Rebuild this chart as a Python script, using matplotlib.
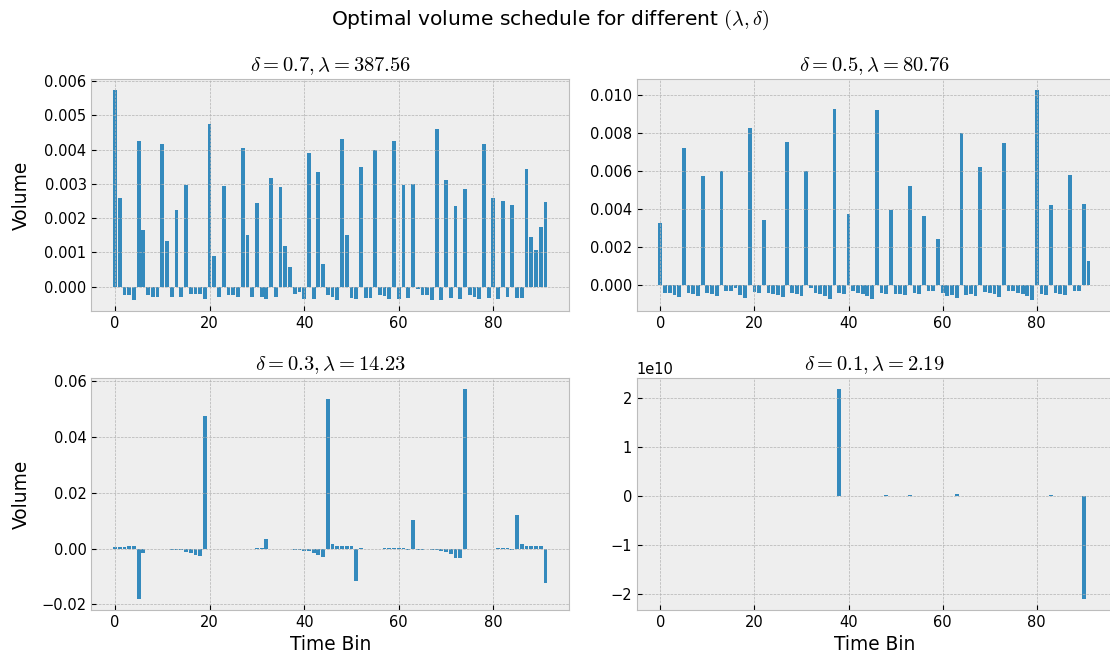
import numpy as np
import matplotlib
matplotlib.use("Agg")
import matplotlib.pyplot as plt

plt.style.use("bmh")
plt.rcParams["xtick.labelsize"] = 10.5
plt.rcParams["ytick.labelsize"] = 10.5
plt.rcParams["axes.labelsize"] = 13.4
plt.rcParams["axes.titlesize"] = 14.8

# Optimal volume per time bin for each (delta, lambda) pair
time_bins = np.arange(92)

titles = [
    r"$\delta = 0.7, \lambda = 387.56$",
    r"$\delta = 0.5, \lambda = 80.76$",
    r"$\delta = 0.3, \lambda = 14.23$",
    r"$\delta = 0.1, \lambda = 2.19$",
]

vol_d07 = [
    0.00575, 0.0026, -0.00025, -0.00025, -0.0004, 0.00425, 0.00164, -0.00023, -0.0003, -0.0003,
    0.00415, 0.00134, -0.0003, 0.00225, -0.0003, 0.00298, -0.0002, -0.0002, -0.0002, -0.00035,
    0.00474, 0.0009, -0.0003, 0.00294, -0.00023, -0.00025, -0.0003, 0.00405, 0.0015, -0.0003,
    0.00244, -0.0003, -0.00035, 0.00318, -0.0003, 0.0029, 0.0012, 0.00057, -0.0002, -0.00015,
    -0.00035, 0.0039, -0.00035, 0.00334, 0.00067, -0.00025, -0.0003, -0.0004, 0.0043, 0.0015,
    -0.00033, -0.00035, 0.0035, -0.00033, -0.00033, 0.004, -0.00023, -0.00027, -0.00035, 0.00425,
    -0.00035, 0.00298, -0.00033, 0.003, -0.00008, -0.00025, -0.00025, -0.0004, 0.0046, -0.0004,
    0.0031, -0.00033, 0.00234, -0.00035, 0.00284, -0.00025, -0.0003, -0.00035, 0.00415, -0.00033,
    0.0026, -0.00035, 0.0025, -0.0003, 0.00237, -0.00033, -0.00033, 0.00344, 0.00144, 0.00107,
    0.00174, 0.00248,
]

vol_d05 = [
    0.00327, -0.00041, -0.00041, -0.0005, -0.00064, 0.0072, -0.0004, -0.00046, -0.00057, 0.00575,
    -0.0004, -0.00046, -0.00057, 0.006, -0.00032, -0.00032, -0.00016, -0.00053, -0.00067, 0.00828,
    -0.00035, -0.0004, 0.00345, -0.0004, -0.00046, -0.00053, -0.00064, 0.00756, -0.0004, -0.00046,
    -0.00057, 0.006, -0.00016, -0.0004, -0.00046, -0.00057, -0.00074, 0.0093, -0.0004, -0.00046,
    0.00375, -0.00032, -0.0004, -0.00046, -0.00057, -0.00074, 0.0092, -0.0004, -0.00046, 0.00395,
    -0.00046, -0.00046, -0.0005, 0.0052, -0.0004, -0.00046, 0.00363, -0.00032, -0.00032, 0.00244,
    -0.0004, -0.00057, -0.0005, -0.00067, 0.008, -0.0005, -0.00046, -0.00057, 0.0062, -0.00035,
    -0.0004, -0.00046, -0.00064, 0.0075, -0.00028, -0.00028, -0.0004, -0.00046, -0.00057, -0.0008,
    0.0103, -0.00046, -0.00053, 0.0042, -0.0004, -0.00046, -0.0005, 0.0058, -0.00032, -0.00032,
    0.0043, 0.00127,
]

vol_d03 = [
    0.0007, 0.0007, 0.0006, 0.0008, 0.0011, -0.0182, -0.0014, -0.0001, -0.0001, -0.0001,
    -0.0002, -0.0002, -0.0003, -0.0004, -0.0006, -0.0012, -0.0014, -0.0022, -0.0027, 0.0475,
    0.0, 0.0, 0.0, 0.0, 0.0, 0.0, 0.0, 0.0, 0.0, 0.0,
    0.0001, 0.0001, 0.0034, -0.0001, -0.0001, -0.0001, -0.0001, -0.0002, -0.0003, -0.0005,
    -0.0008, -0.001, -0.0017, -0.0023, -0.003, 0.0535, 0.0017, 0.001, 0.001, 0.001,
    0.0008, -0.0116, 0.0001, 0.0, 0.0, 0.0, 0.0, 0.0001, 0.0001, 0.0001,
    0.0001, 0.0001, -0.0004, 0.0104, -0.0003, -0.0003, -0.0002, -0.0003, -0.0005, -0.0008,
    -0.0012, -0.002, -0.0035, -0.0035, 0.0574, 0.0, 0.0, 0.0, 0.0, 0.0,
    0.0, 0.0001, 0.0001, 0.0001, -0.0003, 0.0121, 0.0016, 0.0009, 0.0009, 0.0009,
    0.0009, -0.0123,
]

vol_d01 = [
    1e8, 0, 0, 0, 0, 0, 0, 0, 0, 0,
    1e8, 0, 0, 0, 0, 0, 0, 0, 0, 0,
    0, 0, 0, 0, 0, 1e8, 0, 0, 0, 0,
    0, 0, 0, 0, 0, 0, 0, 0, 2.2e10, 0,
    0, 0, 0, 0, 0, 0, 0, 0, 3e8, 0,
    0, 0, 0, 3e8, 0, 0, 0, 0, 0, 0,
    0, 0, 0, 5.5e8, 0, 0, 0, 1e8, 0, 0,
    0, 0, 0, 0, 1e8, 0, 0, 0, 0, 0,
    0, 0, 0, 3e8, 0, 0, 0, 0, 0, 0,
    -2.11e10, 1e8,
]

series = [vol_d07, vol_d05, vol_d03, vol_d01]

W, H = 1110, 657
fig = plt.figure(figsize=(W / 100, H / 100), dpi=100)

# axes boxes in pixels: (left, top, right, bottom)
boxes = [
    (91.4, 79, 569, 311),
    (636.8, 79, 1112, 311),
    (91.4, 378, 569, 610),
    (636.8, 378, 1112, 610),
]

for k, (box, vals, title) in enumerate(zip(boxes, series, titles)):
    l, t, r, b = box
    ax = fig.add_axes([l / W, 1 - b / H, (r - l) / W, (b - t) / H])
    ax.bar(time_bins, vals, color="#348ABD")
    ax.set_title(title)
    if k % 2 == 0:
        ax.set_ylabel("Volume")
        # keep both row labels on the same vertical line
        ax.yaxis.set_label_coords((31 - l) / (r - l), 0.5)
    if k >= 2:
        ax.set_xlabel("Time Bin")

fig.suptitle(r"Optimal volume schedule for different $(\lambda, \delta)$",
             x=0.4955, y=0.988, va="top", fontsize=14.6)

fig.savefig("out.png", dpi=100)
